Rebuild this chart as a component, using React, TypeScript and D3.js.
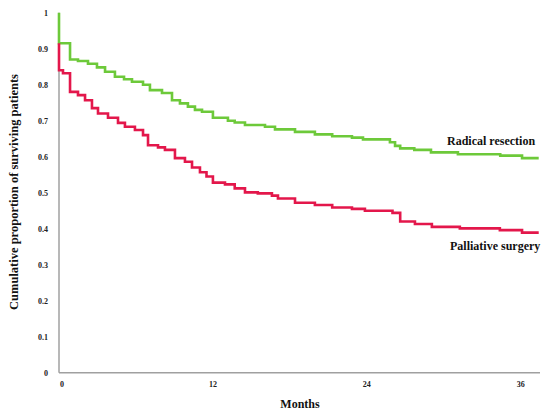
import React from "react";
import * as d3 from "d3";

const yTicks = [0, 0.1, 0.2, 0.3, 0.4, 0.5, 0.6, 0.7, 0.8, 0.9, 1];
const yTickLabels = ["0", "0.1", "0.2", "0.3", "0.4", "0.5", "0.6", "0.7", "0.8", "0.9", "1"];
const xTicks = [0, 12, 24, 36];

// Kaplan-Meier step points: [month, proportion]
const radicalResection: [number, number][] = [
  [0, 1.0], [0, 0.915], [0.86, 0.87], [1.48, 0.866], [2.26, 0.858], [2.96, 0.848],
  [3.59, 0.836], [4.36, 0.822], [5.07, 0.815], [5.69, 0.808], [6.55, 0.8],
  [7.09, 0.785], [8.03, 0.777], [8.81, 0.757], [9.43, 0.748], [10.05, 0.739],
  [10.6, 0.73], [11.15, 0.725], [12.0, 0.708], [13.17, 0.7], [13.7, 0.695],
  [14.5, 0.688], [16.06, 0.683], [16.84, 0.676], [18.4, 0.669], [19.95, 0.662],
  [21.3, 0.657], [22.84, 0.653], [23.7, 0.648], [25.8, 0.64], [26.2, 0.63],
  [26.6, 0.623], [27.7, 0.619], [29.0, 0.612], [31.1, 0.607], [34.4, 0.603],
  [36.1, 0.596], [37.4, 0.596],
];

const palliativeSurgery: [number, number][] = [
  [0, 0.915], [0, 0.84], [0.31, 0.832], [0.86, 0.78], [1.48, 0.771], [2.03, 0.757],
  [2.57, 0.735], [3.04, 0.72], [3.82, 0.708], [4.6, 0.694], [5.14, 0.683],
  [5.92, 0.674], [6.55, 0.66], [6.94, 0.632], [7.72, 0.626], [8.26, 0.619],
  [9.04, 0.596], [9.82, 0.586], [10.37, 0.57], [10.99, 0.557], [11.5, 0.545],
  [12.0, 0.528], [12.94, 0.523], [13.7, 0.512], [14.5, 0.501], [15.5, 0.498],
  [16.6, 0.492], [17.07, 0.484], [18.4, 0.472], [19.95, 0.466], [21.3, 0.459],
  [22.84, 0.455], [23.85, 0.45], [26.0, 0.444], [26.6, 0.42], [27.75, 0.413],
  [29.07, 0.405], [31.25, 0.401], [34.37, 0.396], [36.1, 0.389], [37.4, 0.389],
];

const W = 550;
const H = 414;
const font = "'Liberation Serif', 'DejaVu Serif', serif";

export default function App() {
  const x = d3.scaleLinear().domain([0, 37.5]).range([59, 540]);
  const y = d3.scaleLinear().domain([0, 1]).range([372.7, 12.7]);
  const line = d3
    .line<[number, number]>()
    .x((d) => x(d[0]))
    .y((d) => y(d[1]))
    .curve(d3.curveStepAfter);

  return (
    <svg
      width={W}
      height={H}
      style={{ position: "absolute", left: 0, top: 0, background: "#fff" }}
      fontFamily={font}
    >
      {/* axes */}
      <line x1={x(0)} x2={x(0)} y1={y(1)} y2={y(0)} stroke="#a0a0a0" strokeWidth={1.5} />
      <line x1={x(0)} x2={540} y1={y(0)} y2={y(0)} stroke="#a0a0a0" strokeWidth={1.5} />

      {yTicks.map((t, i) => (
        <text
          key={t}
          x={48}
          y={y(t) + 3}
          textAnchor="end"
          fontSize={8}
          fontWeight="bold"
          fill="#222"
        >
          {yTickLabels[i]}
        </text>
      ))}
      {xTicks.map((t) => (
        <text
          key={t}
          x={t === 0 ? x(t) + 3 : x(t)}
          y={387}
          textAnchor="middle"
          fontSize={8}
          fontWeight="bold"
          fill="#222"
        >
          {t}
        </text>
      ))}

      <path d={line(radicalResection) ?? ""} fill="none" stroke="#6dc93a" strokeWidth={2.6} />
      <path d={line(palliativeSurgery) ?? ""} fill="none" stroke="#e3174b" strokeWidth={2.6} />

      <text x={447} y={144.5} fontSize={12} fontWeight="bold" fill="#111">
        Radical resection
      </text>
      <text x={450} y={249.5} fontSize={12} fontWeight="bold" fill="#111">
        Palliative surgery
      </text>

      <text x={300} y={408} textAnchor="middle" fontSize={12} fontWeight="bold" fill="#111">
        Months
      </text>
      <text
        transform="translate(18,192) rotate(-90)"
        textAnchor="middle"
        fontSize={12.5}
        fontWeight="bold"
        fill="#111"
      >
        Cumulative proportion of surviving patients
      </text>
    </svg>
  );
}
